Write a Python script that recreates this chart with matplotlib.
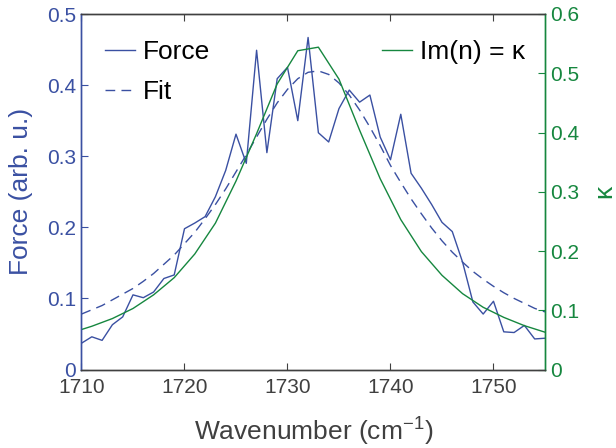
import matplotlib
matplotlib.use("Agg")
import matplotlib.pyplot as plt

plt.rcParams['font.family'] = ['Liberation Sans', 'DejaVu Sans']
plt.rcParams['mathtext.default'] = 'regular'

# ---- data ----
wn_force = list(range(1710, 1756))
force = [0.037, 0.046, 0.041, 0.063, 0.074, 0.105, 0.101, 0.109, 0.128, 0.133,
         0.198, 0.206, 0.215, 0.243, 0.280, 0.331, 0.290, 0.449, 0.305, 0.409,
         0.425, 0.350, 0.467, 0.333, 0.320, 0.367, 0.393, 0.376, 0.386, 0.327,
         0.295, 0.359, 0.276, 0.255, 0.232, 0.207, 0.194, 0.151, 0.095, 0.078,
         0.096, 0.053, 0.052, 0.062, 0.043, 0.044]
fit = [0.078, 0.084, 0.090, 0.098, 0.106, 0.114, 0.124, 0.135, 0.148, 0.161,
       0.177, 0.193, 0.212, 0.232, 0.254, 0.278, 0.302, 0.327, 0.352, 0.375,
       0.394, 0.409, 0.418, 0.420, 0.415, 0.403, 0.386, 0.365, 0.341, 0.315,
       0.287, 0.263, 0.240, 0.219, 0.199, 0.181, 0.165, 0.151, 0.138, 0.127,
       0.117, 0.108, 0.100, 0.093, 0.086, 0.081]
wn_kappa = list(range(1709, 1757, 2))
kappa = [0.062, 0.073, 0.086, 0.103, 0.126, 0.155, 0.195, 0.247, 0.318, 0.398,
         0.482, 0.538, 0.544, 0.490, 0.404, 0.322, 0.253, 0.199, 0.159, 0.128,
         0.105, 0.088, 0.074, 0.063]

xticks = [1710, 1720, 1730, 1740, 1750]
yticks_left = [0, 0.1, 0.2, 0.3, 0.4, 0.5]
yticks_right = [0, 0.1, 0.2, 0.3, 0.4, 0.5, 0.6]

blue = '#3A50A2'
green = '#16873F'
gray = '#404040'
fs = 15
lfs = 19

fig = plt.figure(figsize=(6.16, 4.48), dpi=100)
ax = fig.add_axes([0.1323, 0.1752, 0.8847 - 0.1323, 0.96875 - 0.1752])
ax2 = ax.twinx()

l1, = ax.plot(wn_force, force, color=blue, lw=1.0, label='Force')
l2, = ax.plot(wn_force, fit, color=blue, lw=1.0, dashes=(7, 4.5), label='Fit')
l3, = ax2.plot(wn_kappa, kappa, color=green, lw=1.0, label='Im(n) = κ')

ax.set_xlim(1710, 1755)
ax.set_ylim(0, 0.5)
ax2.set_ylim(0, 0.6)
ax.set_xticks(xticks)
ax.set_yticks(yticks_left)
ax.set_yticklabels(['0', '0.1', '0.2', '0.3', '0.4', '0.5'])
ax2.set_yticks(yticks_right)
ax2.set_yticklabels(['0', '0.1', '0.2', '0.3', '0.4', '0.5', '0.6'])

ax.tick_params(axis='x', direction='in', length=5, colors=gray, labelsize=fs, top=True, pad=6)
ax.tick_params(axis='y', direction='in', length=5, color=blue, labelcolor=blue, labelsize=fs, pad=4)
ax2.tick_params(axis='y', direction='in', length=5, color=green, labelcolor=green, labelsize=fs, pad=4)

for a in (ax, ax2):
    a.spines['top'].set_color(gray)
    a.spines['bottom'].set_color(gray)
    a.spines['left'].set_color(blue)
    a.spines['right'].set_color(green)
    for s in a.spines.values():
        s.set_linewidth(1.0)

ax.set_xlabel('Wavenumber (cm$^{-1}$)', fontsize=lfs, color=gray)
ax.xaxis.set_label_coords(0.5, -0.129)
ax.set_ylabel('Force (arb. u.)', fontsize=lfs, color=blue)
ax.yaxis.set_label_coords(-0.105, 0.5)
ax2.set_ylabel('κ', fontsize=lfs, color=green, rotation=90)
ax2.yaxis.label.set_verticalalignment('center')
ax2.yaxis.label.set_horizontalalignment('center')
ax2.yaxis.set_label_coords(1.127, 0.5)

leg1 = ax.legend(handles=[l1, l2], loc='upper left', frameon=False, fontsize=lfs,
                 handlelength=1.15, handletextpad=0.3, labelspacing=0.62,
                 borderpad=0, borderaxespad=0, bbox_to_anchor=(0.0507, 0.927))
ax2.legend(handles=[l3], loc='upper right', frameon=False, fontsize=lfs,
           handlelength=1.15, handletextpad=0.3, borderpad=0, borderaxespad=0,
           bbox_to_anchor=(0.957, 0.927))

fig.savefig('out.png', dpi=100)
